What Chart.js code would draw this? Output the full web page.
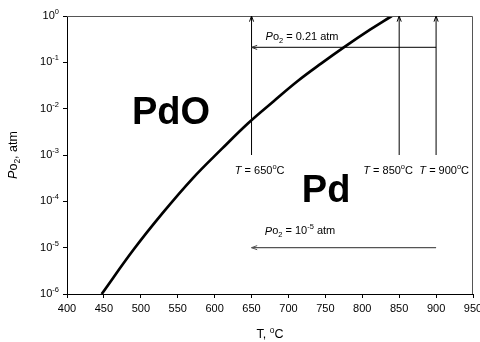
<!DOCTYPE html>
<html>
<head>
<meta charset="utf-8">
<script src="https://cdn.jsdelivr.net/npm/chart.js@4"></script>
<style>
  body { margin: 0; background: #fff; }
  #wrap { width: 480px; height: 342px; }
</style>
</head>
<body>
<div id="wrap"><canvas id="pdChart" width="480" height="342"></canvas></div>
<script>
// PdO / Pd equilibrium line, T in degC and oxygen pressure in atm
var eqTemps = [447, 490, 530, 570, 610, 645, 680, 713, 745, 774, 810, 840];
var eqPo2 = [1.0e-6, 9.0e-6, 5.7e-5, 3.1e-4, 1.37e-3, 4.8e-3, 1.45e-2, 4.0e-2, 9.6e-2, 0.205, 0.50, 1.0];

// isotherms (vertical arrows) and isobars (horizontal arrows)
var isoTemps = [650, 850, 900];
var isoRange = [1e-3, 1];
var isoPo2 = [0.21, 1e-5];
var isoPo2Range = [900, 650];

var xTicks = [400, 450, 500, 550, 600, 650, 700, 750, 800, 850, 900, 950];
var yExponents = [0, -1, -2, -3, -4, -5, -6];

var FONT = "'Liberation Sans', Arial, sans-serif";

var datasets = [{
    label: "PdO/Pd",
    data: eqTemps.map(function (t, i) { return { x: t, y: eqPo2[i] }; }),
    borderColor: "#000",
    borderWidth: 2.7,
    tension: 0.4,
    pointRadius: 0
}];
isoTemps.forEach(function (t) {
    datasets.push({
        label: "T " + t,
        data: [{ x: t, y: isoRange[0] }, { x: t, y: isoRange[1] }],
        borderColor: "#000",
        borderWidth: 1,
        pointRadius: 0,
        arrow: true
    });
});
isoPo2.forEach(function (p, i) {
    datasets.push({
        label: "Po2 " + p,
        data: [{ x: isoPo2Range[0], y: p }, { x: isoPo2Range[1], y: p }],
        borderColor: i === 0 ? "#333" : "#555",
        borderWidth: 1.2,
        pointRadius: 0,
        arrow: true
    });
});

// draws a run of text pieces (italic / superscript / subscript)
function drawRich(ctx, x, y, parts, size, align) {
    function fontFor(p) {
        var s = (p.sup || p.sub) ? size * 0.68 : size;
        return (p.italic ? "italic " : "") + s + "px " + FONT;
    }
    var total = 0;
    parts.forEach(function (p) {
        ctx.font = fontFor(p);
        p.w = ctx.measureText(p.t).width;
        total += p.w;
    });
    var cx = align === "left" ? x : align === "right" ? x - total : x - total / 2;
    ctx.textAlign = "left";
    ctx.textBaseline = "middle";
    parts.forEach(function (p) {
        ctx.font = fontFor(p);
        var dy = p.sup ? -size * 0.38 : p.sub ? size * 0.3 : 0;
        ctx.fillText(p.t, cx, y + dy);
        cx += p.w;
    });
}

var decor = {
    id: "decor",
    afterDatasetsDraw: function (chart) {
        var ctx = chart.ctx;
        var a = chart.chartArea;
        var xs = chart.scales.x, ys = chart.scales.y;
        ctx.save();

        // frame: top and right edges
        ctx.strokeStyle = "#555";
        ctx.lineWidth = 1;
        ctx.beginPath();
        ctx.moveTo(a.left, a.top + 0.5);
        ctx.lineTo(a.right - 0.5, a.top + 0.5);
        ctx.lineTo(a.right - 0.5, a.bottom);
        ctx.stroke();

        // arrow heads on the last point of each arrow line
        chart.data.datasets.forEach(function (ds, i) {
            if (!ds.arrow) return;
            var pts = chart.getDatasetMeta(i).data;
            var p1 = pts[pts.length - 2], p2 = pts[pts.length - 1];
            var ang = Math.atan2(p2.y - p1.y, p2.x - p1.x);
            ctx.strokeStyle = ds.borderColor;
            ctx.lineWidth = 1;
            ctx.beginPath();
            ctx.moveTo(p2.x - 6 * Math.cos(ang - 0.35), p2.y - 6 * Math.sin(ang - 0.35));
            ctx.lineTo(p2.x, p2.y);
            ctx.lineTo(p2.x - 6 * Math.cos(ang + 0.35), p2.y - 6 * Math.sin(ang + 0.35));
            ctx.stroke();
        });

        ctx.fillStyle = "#000";

        // y tick labels 10^n
        yExponents.forEach(function (e) {
            var py = ys.getPixelForValue(Math.pow(10, e));
            drawRich(ctx, 59, py, [{ t: "10" }, { t: String(e), sup: true }], 11, "right");
        });

        // axis titles
        drawRich(ctx, (a.left + a.right) / 2, 335, [{ t: "T, " }, { t: "o", sup: true }, { t: "C" }], 12.5, "center");
        ctx.save();
        ctx.translate(14, (a.top + a.bottom) / 2);
        ctx.rotate(-Math.PI / 2);
        drawRich(ctx, 0, 0, [{ t: "P", italic: true }, { t: "o" }, { t: "2", sub: true }, { t: ", atm" }], 12.5, "center");
        ctx.restore();

        // phase fields
        ctx.font = "bold 38px " + FONT;
        ctx.textAlign = "center";
        ctx.textBaseline = "middle";
        ctx.fillText("PdO", xs.getPixelForValue(541), ys.getPixelForValue(Math.pow(10, -2.1)));
        ctx.fillText("Pd", xs.getPixelForValue(751), ys.getPixelForValue(Math.pow(10, -3.78)));

        // isotherm labels
        var ty = ys.getPixelForValue(Math.pow(10, -3.34));
        [[661, "650"], [835, "850"], [911, "900"]].forEach(function (l) {
            drawRich(ctx, xs.getPixelForValue(l[0]), ty,
                [{ t: "T", italic: true }, { t: " = " + l[1] }, { t: "o", sup: true }, { t: "C" }], 11, "center");
        });

        // isobar labels
        drawRich(ctx, xs.getPixelForValue(669), ys.getPixelForValue(Math.pow(10, -0.46)),
            [{ t: "P", italic: true }, { t: "o" }, { t: "2", sub: true }, { t: " = 0.21 atm" }], 11, "left");
        drawRich(ctx, xs.getPixelForValue(668), ys.getPixelForValue(Math.pow(10, -4.65)),
            [{ t: "P", italic: true }, { t: "o" }, { t: "2", sub: true }, { t: " = 10" }, { t: "-5", sup: true }, { t: " atm" }], 11, "left");

        ctx.restore();
    }
};

new Chart(document.getElementById("pdChart"), {
    type: "scatter",
    data: { datasets: datasets },
    options: {
        responsive: false,
        animation: false,
        showLine: true,
        layout: { padding: { top: 16, right: 7, left: 0, bottom: 0 } },
        plugins: { legend: { display: false }, tooltip: { enabled: false } },
        scales: {
            x: {
                type: "linear",
                min: 400,
                max: 950,
                afterBuildTicks: function (s) { s.ticks = xTicks.map(function (v) { return { value: v }; }); },
                afterFit: function (s) { s.height = 48; s.paddingLeft = 0; s.paddingRight = 0; },
                ticks: {
                    autoSkip: false,
                    maxRotation: 0,
                    padding: 4,
                    color: "#000",
                    font: { family: FONT, size: 11 }
                },
                grid: { drawOnChartArea: false, tickLength: 4, color: "#000" },
                border: { color: "#000", width: 1 }
            },
            y: {
                type: "logarithmic",
                min: 1e-6,
                max: 1,
                afterBuildTicks: function (s) { s.ticks = yExponents.map(function (e) { return { value: Math.pow(10, e) }; }); },
                afterFit: function (s) { s.width = 67; s.paddingTop = 0; s.paddingBottom = 0; },
                ticks: { display: false },
                grid: { drawOnChartArea: false, tickLength: 4, color: "#000" },
                border: { color: "#000", width: 1 }
            }
        }
    },
    plugins: [decor]
});
</script>
</body>
</html>
